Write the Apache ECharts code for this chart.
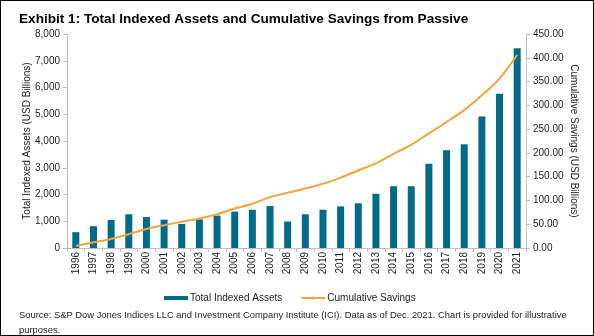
<!DOCTYPE html>
<html>
<head>
<meta charset="utf-8">
<script src="https://cdn.jsdelivr.net/npm/echarts@6/dist/echarts.min.js"></script>
<style>
html,body{margin:0;padding:0;background:#fff;}
#c{width:594px;height:336px;box-sizing:border-box;border:1px solid #000;}
</style>
</head>
<body>
<div id="c"></div>
<script>
const years = ['1996','1997','1998','1999','2000','2001','2002','2003','2004','2005','2006','2007','2008','2009','2010','2011','2012','2013','2014','2015','2016','2017','2018','2019','2020','2021'];
const indexedAssets = [590,815,1050,1260,1160,1060,900,1070,1210,1360,1430,1570,990,1260,1430,1555,1670,2025,2310,2310,3150,3655,3875,4915,5765,7470];
const cumulativeSavings = [4,12,19,29,40,48,55,62,71,83,93,107,116,125,135,148,163,178,198,217,241,265,290,321,356,406];
const leftTicks = {min:0,max:8000,interval:1000};
const rightTicks = {min:0,max:450,interval:50};

const chart = echarts.init(document.getElementById('c'));
const font = 'Liberation Sans, Arial, sans-serif';
const axisCol = '#bfbfbf';
chart.setOption({
  animation:false,
  textStyle:{fontFamily:font},
  title:[{
    text:'Exhibit 1: Total Indexed Assets and Cumulative Savings from Passive',
    left:13, top:6,
    textStyle:{fontSize:13.6,fontWeight:'bold',color:'#000',fontFamily:font}
  },{
    text:'Source: S&P Dow Jones Indices LLC and Investment Company Institute (ICI). Data as of Dec. 2021. Chart is provided for illustrative\npurposes.',
    left:13, top:302,
    textStyle:{fontSize:9.4,fontWeight:'normal',color:'#222',fontFamily:font,lineHeight:15}
  }],
  legend:{
    left:158, top:287,
    itemGap:18, itemWidth:24, itemHeight:4,
    textStyle:{fontSize:10,color:'#222',padding:[0,0,0,-3]},
    data:[{name:'Total Indexed Assets',icon:'rect'},{name:'Cumulative Savings'}]
  },
  grid:{left:66,right:67,top:33,bottom:87},
  xAxis:{
    type:'category', data:years,
    axisLine:{lineStyle:{color:axisCol}},
    axisTick:{show:true,alignWithLabel:false,length:4,lineStyle:{color:axisCol}},
    axisLabel:{rotate:90,fontSize:10,color:'#222',margin:4,interval:0}
  },
  yAxis:[{
    type:'value', min:leftTicks.min, max:leftTicks.max, interval:leftTicks.interval,
    name:'Total Indexed Assets (USD Billions)', nameLocation:'middle', nameGap:35, nameMoveOverlap:false,
    nameTextStyle:{fontSize:10,color:'#222'},
    axisLine:{show:true,lineStyle:{color:axisCol}},
    axisTick:{show:true,length:4,lineStyle:{color:axisCol}},
    splitLine:{show:false},
    axisLabel:{fontSize:10,color:'#222',margin:7,
      formatter:v=>v.toLocaleString('en-US')}
  },{
    type:'value', min:rightTicks.min, max:rightTicks.max, interval:rightTicks.interval,
    name:'Cumulative Savings (USD Billions)', nameLocation:'middle', nameGap:43, nameRotate:-90, nameMoveOverlap:false,
    nameTextStyle:{fontSize:10,color:'#222'},
    axisLine:{show:true,lineStyle:{color:axisCol}},
    axisTick:{show:true,length:4,lineStyle:{color:axisCol}},
    splitLine:{show:false},
    axisLabel:{fontSize:10,color:'#222',margin:7,formatter:v=>v.toFixed(2)}
  }],
  series:[{
    name:'Total Indexed Assets', type:'bar', data:indexedAssets, yAxisIndex:0,
    barWidth:7, itemStyle:{color:'#006a89'}
  },{
    name:'Cumulative Savings', type:'line', data:cumulativeSavings, yAxisIndex:1,
    symbol:'none', smooth:0.3, lineStyle:{color:'#f0a43f',width:2}, itemStyle:{color:'#f0a43f'}
  }]
});
</script>
</body>
</html>
